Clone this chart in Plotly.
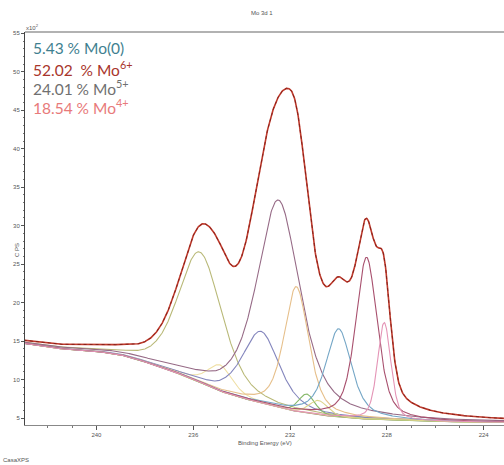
import numpy as np
import plotly.graph_objects as go

# ---- data -----------------------------------------------------------------
# fitted components: centre (eV), height above background (x10^2 CPS), FWHM (eV), Lorentzian fraction
peak_center = [235.72, 234.90, 233.20, 232.48, 231.74, 231.31, 230.83, 229.99, 228.84, 228.11]
peak_height = [16.9, 3.4, 9.3, 27.0, 16.2, 2.45, 1.85, 11.45, 21.0, 12.6]
peak_fwhm = [2.15, 1.2, 1.8, 2.1, 1.2, 0.8, 0.9, 1.25, 1.05, 0.65]
peak_lfrac = [0.4, 0.5, 0.5, 0.6, 0.5, 0.3, 0.3, 0.6, 0.5, 0.4]
peak_color = ['#b9b978', '#efdfa4', '#8486bd', '#966a86', '#e6bf8a',
              '#86b86a', '#dcd48a', '#74a6c6', '#a8506e', '#e494b6']

# background (x10^2 CPS) read at these binding energies
bg_be = [243.0, 242.5, 242.0, 241.5, 241.0, 240.5, 240.0, 239.5, 239.0, 238.5,
         238.0, 237.5, 237.0, 236.5, 236.0, 235.5, 235.0, 234.5, 234.0, 233.5,
         233.0, 232.5, 232.0, 231.5, 231.0, 230.5, 230.0, 229.5, 229.0, 228.5,
         228.0, 227.0, 226.0, 225.0, 224.0, 223.0]
bg_cps = [14.7, 14.45, 14.2, 14.0, 13.9, 13.8, 13.65, 13.45, 13.2, 12.8,
          12.3, 11.8, 11.25, 10.65, 10.05, 9.35, 8.6, 8.1, 7.6, 7.2,
          6.8, 6.35, 6.0, 5.75, 5.5, 5.3, 5.15, 5.0, 4.9, 4.85,
          4.8, 4.65, 4.55, 4.5, 4.45, 4.45]

x_ticks = [240, 236, 232, 228, 224]
y_ticks = [5, 10, 15, 20, 25, 30, 35, 40, 45, 50, 55]

labels = ["5.43\u00a0%\u00a0Mo(0)",
          "52.02\u00a0\u00a0%\u00a0Mo<sup>6+</sup>",
          "24.01\u00a0%\u00a0Mo<sup>5+</sup>",
          "18.54\u00a0%\u00a0Mo<sup>4+</sup>"]
label_colors = ['#3f7f90', '#a8352c', '#707070', '#e87a7a']

# ---- build curves ------------------------------------------------------------
be = np.arange(243.0, 223.1, -0.02)
bg = np.interp(be, bg_be[::-1], bg_cps[::-1])


def gl(x, c, h, w, m):
    d2 = 4.0 * (x - c) ** 2 / w ** 2
    return h * ((1 - m) * np.exp(-np.log(2) * d2) + m / (1 + d2))


comps = [gl(be, c, h, w, m) for c, h, w, m in zip(peak_center, peak_height, peak_fwhm, peak_lfrac)]
envelope = bg + np.sum(comps, axis=0)

fig = go.Figure()
fig.add_trace(go.Scatter(x=be, y=bg, mode='lines', line=dict(color='#7d7048', width=1.1),
                         hoverinfo='skip'))
for comp, col in zip(comps, peak_color):
    fig.add_trace(go.Scatter(x=be, y=bg + comp, mode='lines',
                             line=dict(color=col, width=1.1), hoverinfo='skip'))
fig.add_trace(go.Scatter(x=be, y=envelope, mode='lines',
                         line=dict(color='#bf3a2c', width=1.6), hoverinfo='skip'))
fig.add_trace(go.Scatter(x=be, y=envelope, mode='lines',
                         line=dict(color='#7a1a14', width=0.8, dash='dot'), hoverinfo='skip'))

L, R, T, B = 25, 504, 32, 425


def px(x):
    return (x - L) / (R - L)


def py(y):
    return (B - y) / (B - T)


ann = []
for i, (t, c) in enumerate(zip(labels, label_colors)):
    ann.append(dict(text=t, x=px(31), y=py([47.7, 68.3, 87.3, 106.0][i]), xref='paper', yref='paper',
                    xanchor='left', yanchor='middle', showarrow=False,
                    font=dict(family='Lato, sans-serif', size=15.5, color=c)))
small = dict(family='Liberation Sans, Arial, sans-serif', size=6, color='#555555')
ann += [
    dict(text='Mo 3d 1', x=px(262), y=py(13), xref='paper', yref='paper', yanchor='middle',
         showarrow=False, font=small),
    dict(text='x10<sup>2</sup>', x=px(24), y=py(27), xref='paper', yref='paper', xanchor='left',
         yanchor='middle', showarrow=False, font=small),
    dict(text='C PS', x=px(17), y=py(250), xref='paper', yref='paper', textangle=-90,
         xanchor='center', yanchor='middle', showarrow=False, font=small),
    dict(text='Binding Energy (eV)', x=px(265), y=py(443), xref='paper', yref='paper',
         yanchor='middle', showarrow=False, font=small),
    dict(text='CasaXPS', x=px(1), y=py(460), xref='paper', yref='paper', xanchor='left',
         yanchor='middle', showarrow=False, font=small),
]

fig.update_layout(
    width=504, height=465,
    margin=dict(l=L, r=504 - R, t=T, b=465 - B),
    plot_bgcolor='white', paper_bgcolor='white', showlegend=False,
    annotations=ann,
    shapes=[dict(type='line', xref='paper', yref='paper', x0=0, x1=1, y0=1, y1=1,
                 line=dict(color='#999999', width=1.6))],
    xaxis=dict(range=[242.95, 223.16], tickvals=x_ticks, ticks='outside', ticklen=4,
               tickcolor='#555', tickfont=small, showline=True, linecolor='#888', linewidth=1.4,
               showgrid=False, zeroline=False,
               minor=dict(dtick=1, tick0=240, ticks='outside', ticklen=2, tickcolor='#777')),
    yaxis=dict(range=[4.09, 55.17], tickvals=y_ticks, ticks='outside', ticklen=3,
               tickcolor='#555', tickfont=small, showline=True, linecolor='#444', linewidth=1,
               showgrid=False, zeroline=False,
               minor=dict(dtick=1, tick0=5, ticks='outside', ticklen=1.5, tickcolor='#777')),
)

fig.write_html("out.html", config={'displayModeBar': False},
               post_script="document.body.style.margin='0px';document.body.style.padding='0px';")
